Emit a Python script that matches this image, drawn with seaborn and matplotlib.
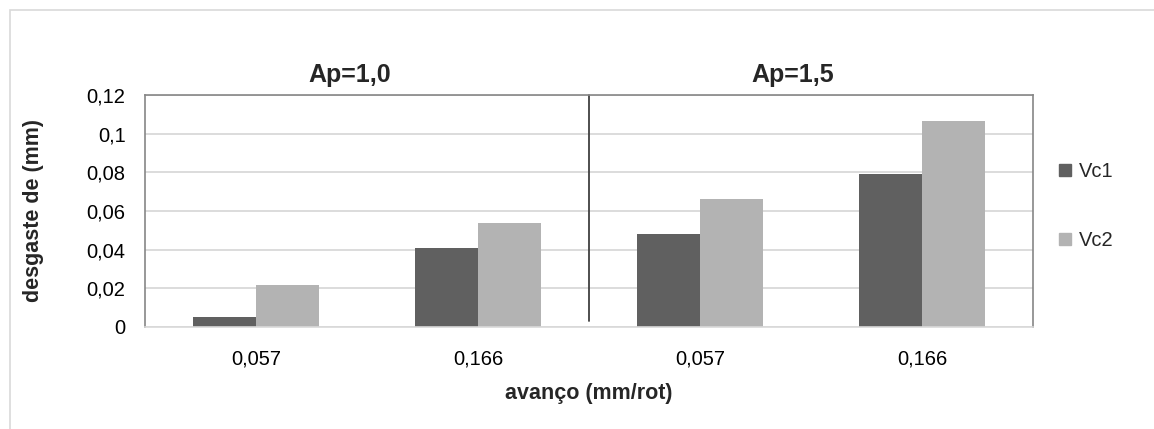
import matplotlib
matplotlib.use("Agg")
import matplotlib.pyplot as plt
import seaborn as sns
import pandas as pd
from matplotlib.patches import Rectangle
from matplotlib.lines import Line2D

# ---- data ----
groups = ["Ap=1,0", "Ap=1,0", "Ap=1,5", "Ap=1,5"]
feeds = ["0,057", "0,166", "0,057", "0,166"]
vc1 = [0.0053, 0.0407, 0.0481, 0.0789]
vc2 = [0.0217, 0.0537, 0.0661, 0.1068]
series_names = ["Vc1", "Vc2"]
group_titles = ["Ap=1,0", "Ap=1,5"]
yticks = [0, 0.02, 0.04, 0.06, 0.08, 0.10, 0.12]
ytick_labels = ["0", "0,02", "0,04", "0,06", "0,08", "0,1", "0,12"]
colors = ["#606060", "#b3b3b3"]

cats = [f"{g} {f}" for g, f in zip(groups, feeds)]
df = pd.DataFrame({
    "cat": cats * 2,
    "value": vc1 + vc2,
    "series": [series_names[0]] * 4 + [series_names[1]] * 4,
})

sns.set_theme(style="white")
plt.rcParams["font.family"] = ["Liberation Sans", "DejaVu Sans"]

W, H = 1154, 429
fig = plt.figure(figsize=(W / 100, H / 100), dpi=100)
fig.patch.set_facecolor("white")

# outer chart border (open on right/bottom, as cropped)
fig.patches.append(Rectangle((10 / W, -0.1), 1.2, (H - 10) / H + 0.1,
                             transform=fig.transFigure, fill=False,
                             edgecolor="#d9d9d9", linewidth=1.2))

ax = fig.add_axes([145 / W, (H - 327) / H, 888 / W, 232 / H])
sns.barplot(data=df, x="cat", y="value", hue="series", palette=colors,
            order=cats, hue_order=series_names, width=0.57, gap=0,
            saturation=1, edgecolor="none", linewidth=0, ax=ax,
            legend=False, errorbar=None)

ax.set_xlim(-0.5, 3.5)
ax.set_ylim(0, 0.12)
ax.set_yticks(yticks)
ax.set_yticklabels(ytick_labels, fontsize=14.5)
ax.set_xticks(range(4))
ax.set_xticklabels(feeds, fontsize=14.5)
ax.tick_params(axis="y", length=0, pad=14, colors="black")
ax.tick_params(axis="x", length=0, pad=16, colors="black")
ax.yaxis.grid(True, color="#d9d9d9", linewidth=1.3)
ax.set_axisbelow(True)
for s in ax.spines.values():
    s.set_color("#868686")
    s.set_linewidth(1.2)
ax.spines["bottom"].set_color("#d9d9d9")

ax.set_xlabel("avanço (mm/rot)", fontsize=15.5, fontweight="bold",
              va="center")
ax.xaxis.set_label_coords(0.5, (327 - 394) / 232)
ax.set_ylabel("desgaste de (mm)", fontsize=15.5, fontweight="bold",
              va="center")
ax.yaxis.set_label_coords((33 - 145) / 888, 0.5)

# separator between groups
ax.plot([1.5, 1.5], [0.12, 0.003], color="#404040", linewidth=1.3,
        transform=ax.transData, clip_on=False)

# group titles
fig.text(350 / W, (H - 75) / H, group_titles[0], ha="center", va="center",
         fontsize=18, fontweight="bold")
fig.text(793 / W, (H - 75) / H, group_titles[1], ha="center", va="center",
         fontsize=18, fontweight="bold")

# legend
handles = [Line2D([], [], marker="s", linestyle="none", markersize=9,
                  markerfacecolor=c, markeredgecolor=c) for c in colors]
fig.legend(handles, series_names, loc="center left",
           bbox_to_anchor=(1037 / W, (H - 206) / H), frameon=False,
           fontsize=14.5, labelspacing=2.5, handletextpad=0.2,
           handlelength=1.0)

fig.savefig("out.png", dpi=100, facecolor="white")
